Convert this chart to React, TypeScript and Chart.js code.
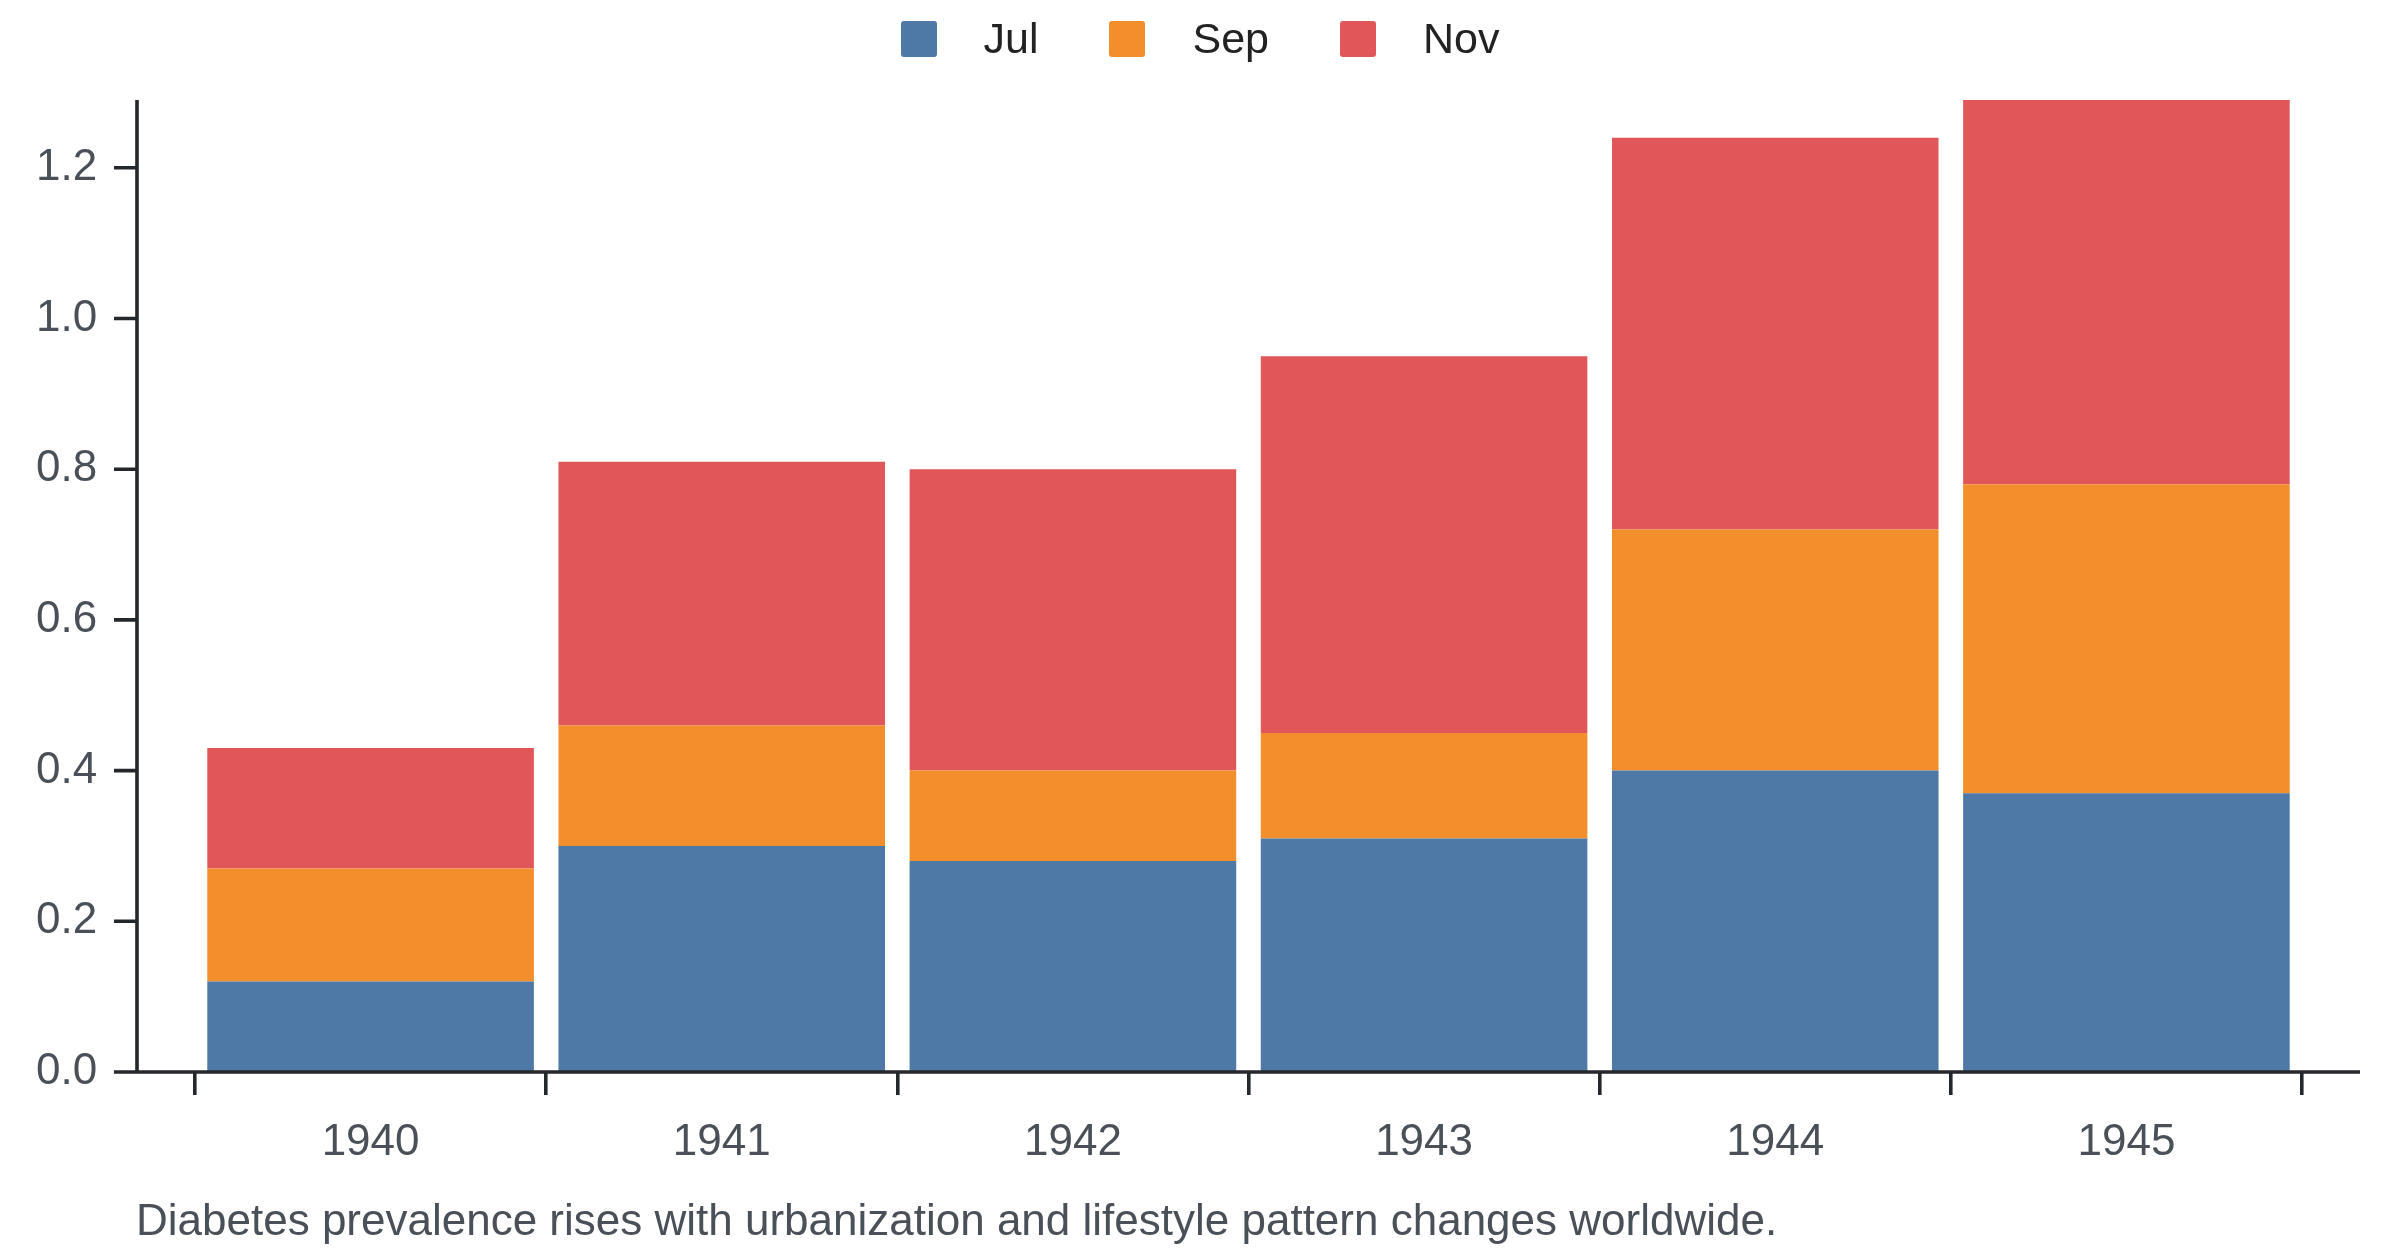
import React, { useEffect, useRef } from "react";
import { Chart, registerables } from "chart.js";

Chart.register(...registerables);

const years = ["1940", "1941", "1942", "1943", "1944", "1945"];
const julValues = [0.12, 0.3, 0.28, 0.31, 0.4, 0.37];
const sepValues = [0.15, 0.16, 0.12, 0.14, 0.32, 0.41];
const novValues = [0.16, 0.35, 0.4, 0.5, 0.52, 0.51];
const yTicks = [0, 0.2, 0.4, 0.6, 0.8, 1.0, 1.2];

const series = [
  { label: "Jul", data: julValues, color: "#4e79a7" },
  { label: "Sep", data: sepValues, color: "#f28e2b" },
  { label: "Nov", data: novValues, color: "#e15759" },
];

const caption = "Diabetes prevalence rises with urbanization and lifestyle pattern changes worldwide.";

const FONT = "'Liberation Sans', Arial, Helvetica, sans-serif";
const AXIS_COLOR = "#24272b";
const LABEL_COLOR = "#4a5058";
const AXIS_GAP = 58; // axis lines sit a bit outside the band range
const TICK_LEN = 23;

// draws the detached y axis + the long x baseline
const axisLines = {
  id: "axisLines",
  afterDatasetsDraw(chart: Chart) {
    const { ctx, chartArea } = chart;
    const y = chart.scales.y;
    const x0 = chartArea.left - AXIS_GAP;
    ctx.save();
    ctx.strokeStyle = AXIS_COLOR;
    ctx.lineWidth = 3.6;
    ctx.lineCap = "butt";
    ctx.beginPath();
    ctx.moveTo(x0, chartArea.top);
    ctx.lineTo(x0, chartArea.bottom);
    ctx.moveTo(x0, chartArea.bottom);
    ctx.lineTo(chartArea.right + AXIS_GAP, chartArea.bottom);
    y.ticks.forEach((t) => {
      const py = y.getPixelForValue(t.value);
      ctx.moveTo(x0 - TICK_LEN, py);
      ctx.lineTo(x0, py);
    });
    ctx.stroke();
    ctx.restore();
  },
};

export default function App() {
  const canvasRef = useRef<HTMLCanvasElement | null>(null);

  useEffect(() => {
    if (!canvasRef.current) return;
    const totals = years.map((_, i) => julValues[i] + sepValues[i] + novValues[i]);
    const chart = new Chart(canvasRef.current, {
      type: "bar",
      data: {
        labels: years,
        datasets: series.map((s) => ({
          label: s.label,
          data: s.data,
          backgroundColor: s.color,
          borderWidth: 0,
          barPercentage: 0.93,
          categoryPercentage: 1,
        })),
      },
      options: {
        responsive: false,
        animation: false,
        devicePixelRatio: 1,
        layout: { padding: { top: 100, right: 98, bottom: 64, left: 36 } },
        plugins: {
          legend: { display: false },
          tooltip: { enabled: false },
        },
        scales: {
          x: {
            stacked: true,
            offset: true,
            border: { display: false },
            grid: {
              offset: true,
              drawOnChartArea: false,
              drawTicks: true,
              tickLength: TICK_LEN,
              lineWidth: 3.6,
              color: AXIS_COLOR,
            },
            ticks: {
              color: LABEL_COLOR,
              font: { family: FONT, size: 44 },
              padding: 21,
              maxRotation: 0,
            },
            afterFit: (scale) => {
              scale.height = 120;
            },
          },
          y: {
            stacked: true,
            min: 0,
            max: Math.max(...totals),
            border: { display: false },
            grid: { display: false },
            ticks: {
              color: LABEL_COLOR,
              font: { family: FONT, size: 44 },
              padding: 0,
              crossAlign: "far",
              includeBounds: false,
              callback: (v) => Number(v).toFixed(1),
            },
            afterBuildTicks: (scale) => {
              scale.ticks = yTicks.map((value) => ({ value }));
            },
            afterFit: (scale) => {
              scale.width = 159;
            },
          },
        },
      },
      plugins: [axisLines],
    });
    return () => chart.destroy();
  }, []);

  return (
    <div style={{ position: "absolute", left: 0, top: 0, width: 2400, height: 1256, background: "#fff", fontFamily: FONT }}>
      <canvas ref={canvasRef} width={2400} height={1256} style={{ display: "block", width: 2400, height: 1256 }} />
      <div
        style={{
          position: "absolute",
          top: 17,
          left: 0,
          width: 2400,
          height: 43,
          display: "flex",
          justifyContent: "center",
          alignItems: "center",
          fontSize: 43,
          lineHeight: "43px",
          color: "#222",
        }}
      >
        {series.map((s, i) => (
          <div key={s.label} style={{ display: "flex", alignItems: "center", marginLeft: i === 0 ? 0 : 71 }}>
            <span style={{ display: "inline-block", width: 36, height: 36, borderRadius: 3, background: s.color, marginRight: 47 }} />
            <span>{s.label}</span>
          </div>
        ))}
      </div>
      <div
        style={{
          position: "absolute",
          left: 136,
          top: 1198,
          fontSize: 44,
          lineHeight: "44px",
          color: LABEL_COLOR,
          whiteSpace: "nowrap",
        }}
      >
        {caption}
      </div>
    </div>
  );
}
